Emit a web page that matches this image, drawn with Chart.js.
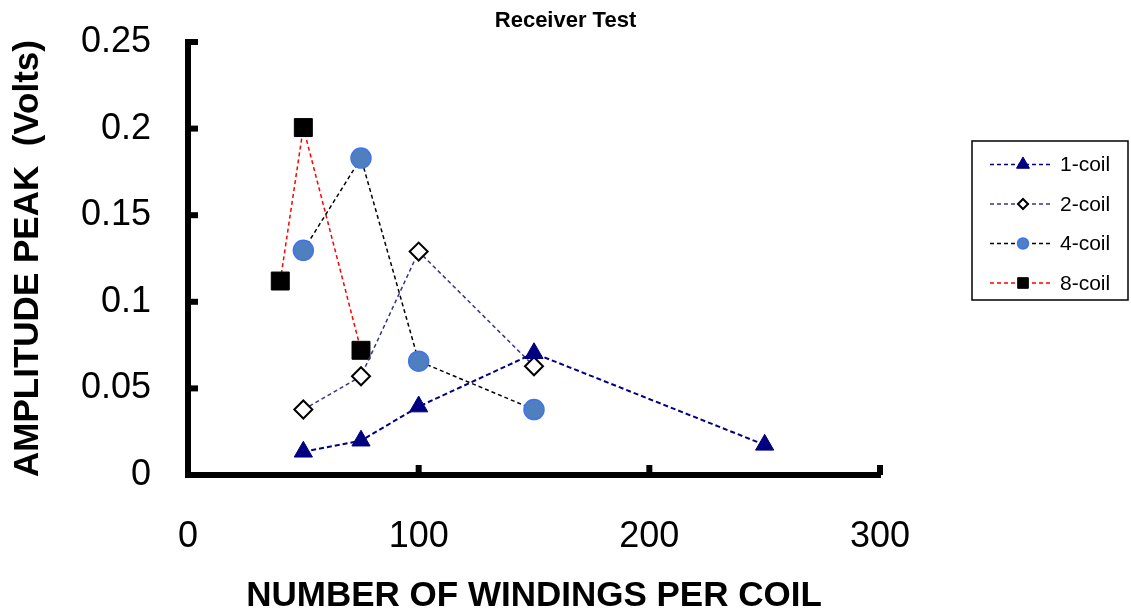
<!DOCTYPE html>
<html lang="en">
  <head>
    <meta charset="UTF-8" />
    <title>Receiver Test</title>
    <script src="https://cdn.jsdelivr.net/npm/chart.js"></script>
    <style>
      body {
        margin: 0;
        background-color: #fff;
      }
      .wrap {
        width: 1131px;
        height: 614px;
        position: relative;
      }
    </style>
  </head>

  <body>
    <div class="wrap"><canvas id="myChart"></canvas></div>

    <script>
      // Data
      const seriesNames = ["1-coil", "2-coil", "4-coil", "8-coil"];

      const windings1 = [50, 75, 100, 150, 250];
      const coil1 = [0.0134, 0.0198, 0.0395, 0.0703, 0.0174];

      const windings2 = [50, 75, 100, 150];
      const coil2 = [0.0378, 0.057, 0.129, 0.0628];

      const windings4 = [50, 75, 100, 150];
      const coil4 = [0.1297, 0.183, 0.0657, 0.0378];

      const windings8 = [40, 50, 75];
      const coil8 = [0.112, 0.2006, 0.072];

      const xTickLabels = ["0", "100", "200", "300"];
      const yTickLabels = ["0", "0.05", "0.1", "0.15", "0.2", "0.25"];

      const toPoints = (xs, ys) => xs.map((x, i) => ({ x: x, y: ys[i] }));

      const FONT = "'Liberation Sans', Arial, sans-serif";

      // Ticks drawn inwards, like the original
      const inwardTicks = {
        id: "inwardTicks",
        afterDraw(chart) {
          const ctx = chart.ctx;
          const xs = chart.scales.x;
          const ys = chart.scales.y;
          const area = chart.chartArea;
          ctx.save();
          ctx.strokeStyle = "#000";
          ctx.lineWidth = 6;
          ys.ticks.forEach((t) => {
            const py = ys.getPixelForValue(t.value);
            ctx.beginPath();
            ctx.moveTo(area.left, py);
            ctx.lineTo(area.left + 10, py);
            ctx.stroke();
          });
          xs.ticks.forEach((t) => {
            const px = xs.getPixelForValue(t.value);
            ctx.beginPath();
            ctx.moveTo(px, area.bottom);
            ctx.lineTo(px, area.bottom - 10);
            ctx.stroke();
          });
          ctx.restore();
        },
      };

      // Boxed legend with dashed line + marker
      const boxLegend = {
        id: "boxLegend",
        afterDraw(chart) {
          const ctx = chart.ctx;
          const left = 972, top = 141, w = 156, h = 159;
          ctx.save();
          ctx.strokeStyle = "#000";
          ctx.lineWidth = 1.5;
          ctx.strokeRect(left, top, w, h);
          chart.data.datasets.forEach((ds, i) => {
            const y = 164.5 + i * 39.5;
            ctx.strokeStyle = ds.borderColor;
            ctx.lineWidth = 1.3;
            ctx.setLineDash([4, 3]);
            ctx.beginPath();
            ctx.moveTo(990, y);
            ctx.lineTo(1050, y);
            ctx.stroke();
            ctx.setLineDash([]);
            ctx.fillStyle = ds.pointBackgroundColor;
            ctx.strokeStyle = ds.pointBorderColor;
            ctx.lineWidth = ds.pointBorderWidth;
            Chart.helpers.drawPoint(
              ctx,
              {
                pointStyle: ds.pointStyle,
                radius: ds.legendRadius,
                rotation: 0,
                borderWidth: ds.pointBorderWidth,
              },
              1023,
              y
            );
            ctx.fillStyle = "#000";
            ctx.font = "21px " + FONT;
            ctx.textBaseline = "middle";
            ctx.textAlign = "left";
            ctx.fillText(ds.label, 1060, y + 1);
          });
          ctx.restore();
        },
      };

      const ctx = document.getElementById("myChart").getContext("2d");
      const myChart = new Chart(ctx, {
        type: "scatter",
        data: {
          datasets: [
            {
              label: seriesNames[0],
              data: toPoints(windings1, coil1),
              showLine: true,
              borderColor: "#000080",
              borderWidth: 2,
              borderDash: [5, 3],
              pointStyle: "triangle",
              pointRadius: 10.5,
              pointBackgroundColor: "#000080",
              pointBorderColor: "#000080",
              pointBorderWidth: 1,
              legendRadius: 7.5,
            },
            {
              label: seriesNames[1],
              data: toPoints(windings2, coil2),
              showLine: true,
              borderColor: "#34348f",
              borderWidth: 1.5,
              borderDash: [4, 3],
              pointStyle: "rectRot",
              pointRadius: 9,
              pointBackgroundColor: "#fff",
              pointBorderColor: "#000",
              pointBorderWidth: 2,
              legendRadius: 5,
            },
            {
              label: seriesNames[2],
              data: toPoints(windings4, coil4),
              showLine: true,
              borderColor: "#000",
              borderWidth: 1.5,
              borderDash: [4, 3],
              pointStyle: "circle",
              pointRadius: 10,
              pointBackgroundColor: "#4f7fbf",
              pointBorderColor: "#3f74ee",
              pointBorderWidth: 1.5,
              legendRadius: 5.5,
            },
            {
              label: seriesNames[3],
              data: toPoints(windings8, coil8),
              showLine: true,
              borderColor: "#ff0000",
              borderWidth: 1.5,
              borderDash: [4, 3],
              pointStyle: "rect",
              pointRadius: 12.7,
              pointBackgroundColor: "#000",
              pointBorderColor: "#000",
              pointBorderWidth: 1,
              legendRadius: 7.5,
            },
          ],
        },
        options: {
          responsive: true,
          maintainAspectRatio: false,
          animation: false,
          clip: false,
          layout: { padding: 0 },
          plugins: {
            legend: { display: false },
            tooltip: { enabled: false },
            title: {
              display: true,
              text: "Receiver Test",
              color: "#000",
              font: { family: FONT, size: 22, weight: "bold", lineHeight: 1.2 },
              padding: { top: 8, bottom: 7.6 },
            },
          },
          scales: {
            x: {
              type: "linear",
              min: 0,
              max: 300,
              afterFit: (scale) => {
                scale.height = 139;
                scale.paddingLeft = 0;
                scale.paddingRight = 0;
              },
              grid: { display: false, drawTicks: false },
              border: { display: true, color: "#000", width: 6 },
              ticks: {
                stepSize: 100,
                padding: 40,
                color: "#000",
                font: { family: FONT, size: 36 },
                callback: (v) => xTickLabels[Math.round(v / 100)],
              },
              title: {
                display: true,
                text: "NUMBER OF WINDINGS PER COIL",
                color: "#000",
                font: { family: FONT, size: 35, weight: "bold", lineHeight: 1 },
                padding: { top: 0, bottom: 0 },
              },
            },
            y: {
              min: 0,
              max: 0.25,
              afterFit: (scale) => {
                scale.width = 188;
                scale.paddingTop = 0;
                scale.paddingBottom = 0;
              },
              grid: { display: false, drawTicks: false },
              border: { display: true, color: "#000", width: 6 },
              ticks: {
                stepSize: 0.05,
                padding: 37,
                color: "#000",
                font: { family: FONT, size: 36 },
                callback: (v) => yTickLabels[Math.round(v / 0.05)],
              },
              title: {
                display: true,
                text: "AMPLITUDE PEAK  (Volts)",
                color: "#000",
                font: { family: FONT, size: 35, weight: "bold", lineHeight: 1 },
                padding: { top: 11, bottom: 0 },
              },
            },
            // empty right-hand axis that reserves the legend column
            side: {
              type: "linear",
              position: "right",
              display: true,
              afterFit: (scale) => {
                scale.width = 251;
                scale.paddingTop = 0;
                scale.paddingBottom = 0;
              },
              grid: { display: false, drawTicks: false },
              border: { display: false },
              ticks: { display: false },
            },
          },
        },
        plugins: [inwardTicks, boxLegend],
      });
    </script>
  </body>
</html>
